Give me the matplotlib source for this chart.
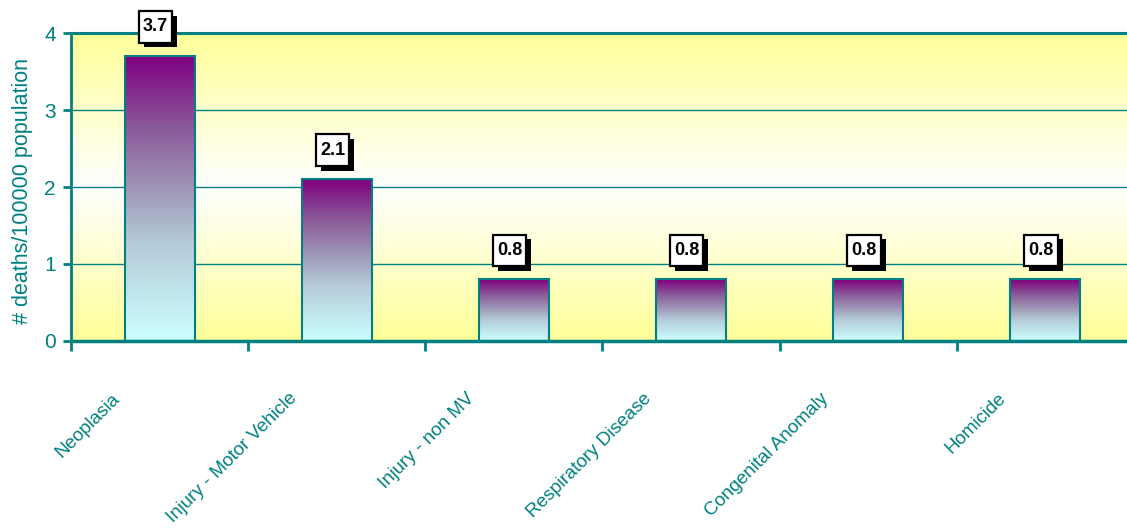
import numpy as np
import matplotlib
matplotlib.use("Agg")
import matplotlib.pyplot as plt
import matplotlib.patheffects as pe
from matplotlib.path import Path
from matplotlib.transforms import ScaledTranslation
from matplotlib.colors import LinearSegmentedColormap

categories = ["Neoplasia", "Injury - Motor Vehicle", "Injury - non MV",
              "Respiratory Disease", "Congenital Anomaly", "Homicide"]
values = [3.7, 2.1, 0.8, 0.8, 0.8, 0.8]
yticks = [0, 1, 2, 3, 4]

TEAL = "#008080"
plt.rcParams["font.family"] = ["Liberation Sans", "DejaVu Sans"]


def tall_box(x0, y0, width, height, mutation_size):
    # square box, narrow side padding, taller top/bottom padding
    px, py = 0.22 * mutation_size, 0.4 * mutation_size
    x0, y0 = x0 - px, y0 - py
    x1, y1 = x0 + width + 2 * px, y0 + height + 2 * py
    return Path([(x0, y0), (x1, y0), (x1, y1), (x0, y1), (x0, y0)], closed=True)


fig = plt.figure(figsize=(11.27, 5.29), dpi=100)
ax = fig.add_axes([0.063, 0.3554, 0.943, 0.5822])

# background: yellow -> white -> yellow
bg = LinearSegmentedColormap.from_list("bg", ["#ffff99", "#ffffff", "#ffff99"])
grad = np.linspace(0, 1, 256).reshape(-1, 1)
ax.imshow(grad, cmap=bg, extent=[0, len(categories), 0, 4], aspect="auto",
          origin="upper", zorder=0)

# grid
for y in yticks[1:-1]:
    ax.axhline(y, color=TEAL, lw=1, zorder=1)

# bars with purple (top) -> light cyan (bottom) gradient
barcm = LinearSegmentedColormap.from_list(
    "bar", [(0, "#ccffff"), (0.35, "#b4cad8"), (0.5, "#a2a0bc"),
            (0.75, "#8a5a98"), (1, "#800080")])
width = 0.395
xs = np.arange(len(categories)) + 0.5
for x, v in zip(xs, values):
    ax.imshow(grad, cmap=barcm, extent=[x - width / 2, x + width / 2, 0, v],
              aspect="auto", origin="lower", zorder=2)
ax.bar(xs, values, width=width, facecolor="none", edgecolor=TEAL, lw=1.5, zorder=3)
ax.set_xlim(0, len(categories))
ax.set_ylim(0, 4)

# value labels: white box with black drop shadow
for x, v in zip(xs, values):
    t = ax.annotate(f"{v:.1f}", (x, v), xytext=(-3, 21), textcoords="offset points",
                    ha="center", va="center", fontsize=13, fontweight="bold", color="black",
                    bbox=dict(boxstyle=tall_box, fc="white", ec="black", lw=1.6), zorder=6)
    t.get_bbox_patch().set_path_effects(
        [pe.SimplePatchShadow(offset=(3.6, -3.4), shadow_rgbFace="black", alpha=1),
         pe.Normal()])

# axes styling
ax.spines["right"].set_visible(False)
ax.spines["top"].set_color(TEAL)
ax.spines["top"].set_linewidth(2.2)
ax.spines["left"].set_color(TEAL)
ax.spines["left"].set_linewidth(2)
ax.spines["bottom"].set_color(TEAL)
ax.spines["bottom"].set_linewidth(2.5)

ax.set_yticks(yticks)
ax.tick_params(axis="y", colors=TEAL, labelsize=15, length=6, width=2, pad=5)
ax.set_xticks(np.arange(len(categories)))
ax.tick_params(axis="x", which="major", length=7, width=2, color=TEAL, labelbottom=False)
ax.set_xticks(xs, minor=True)
ax.set_xticklabels(categories, minor=True, rotation=45, ha="right", va="top",
                   rotation_mode="anchor", fontsize=13.5, color=TEAL)
ax.tick_params(axis="x", which="minor", length=0, pad=0)
shift = ScaledTranslation(-0.48, -0.49, fig.dpi_scale_trans)
for lab in ax.get_xticklabels(minor=True):
    lab.set_transform(lab.get_transform() + shift)

ax.set_ylabel("# deaths/100000 population", color=TEAL, fontsize=15.5)
ax.yaxis.set_label_coords(-0.036, 0.487)

fig.savefig("out.png", dpi=100)
